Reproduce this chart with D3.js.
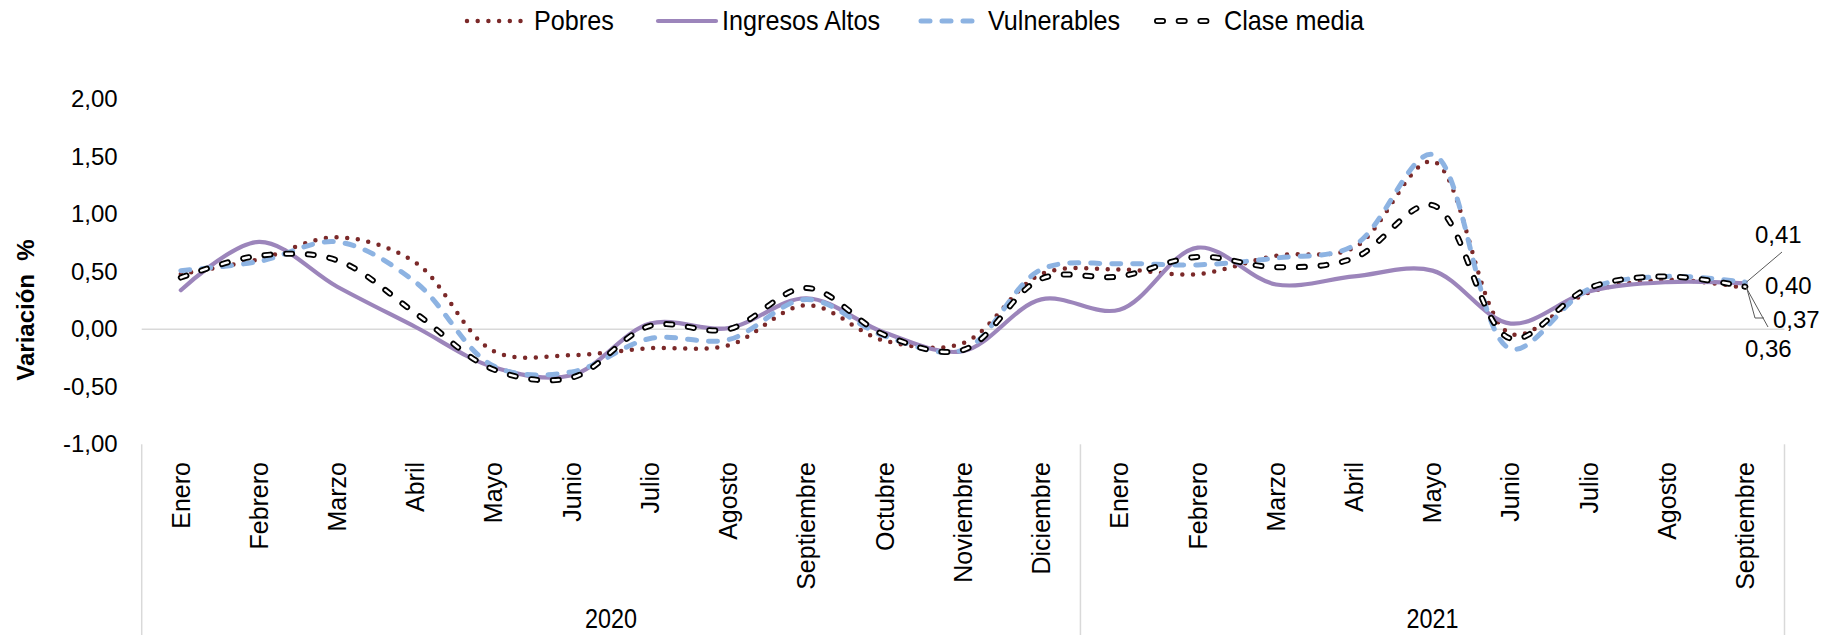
<!DOCTYPE html>
<html>
<head>
<meta charset="utf-8">
<script src="https://cdn.jsdelivr.net/npm/d3@7"></script>
<style>
  body { margin: 0; background: #fff; }
  text { font-family: Arial, "Liberation Sans", sans-serif; fill: #000; }
</style>
</head>
<body>
<svg id="chart" width="1824" height="635"></svg>
<script>
// Monthly variation (%) by socioeconomic group, Jan 2020 – Sep 2021
const years = ["2020", "2021"];
const months2020 = ["Enero", "Febrero", "Marzo", "Abril", "Mayo", "Junio", "Julio",
  "Agosto", "Septiembre", "Octubre", "Noviembre", "Diciembre"];
const months2021 = ["Enero", "Febrero", "Marzo", "Abril", "Mayo", "Junio", "Julio",
  "Agosto", "Septiembre"];
const yTicks = [2, 1.5, 1, 0.5, 0, -0.5, -1];

const pobres        = [0.48, 0.61, 0.80, 0.58, -0.19, -0.225, -0.165, -0.14, 0.21, -0.10, -0.12, 0.48,
                       0.52, 0.48, 0.64, 0.71, 1.46, -0.04, 0.32, 0.43, 0.36];
const ingresosAltos = [0.34, 0.76, 0.37, 0.02, -0.33, -0.40, 0.05, 0.01, 0.27, -0.03, -0.19, 0.26,
                       0.17, 0.71, 0.39, 0.46, 0.51, 0.05, 0.33, 0.41, 0.40];
const vulnerables   = [0.51, 0.59, 0.76, 0.41, -0.32, -0.37, -0.08, -0.09, 0.26, -0.06, -0.18, 0.52,
                       0.57, 0.56, 0.62, 0.73, 1.52, -0.17, 0.35, 0.46, 0.41];
const claseMedia    = [0.45, 0.64, 0.60, 0.14, -0.35, -0.42, 0.03, 0.00, 0.36, -0.05, -0.18, 0.44,
                       0.46, 0.63, 0.54, 0.62, 1.08, -0.08, 0.36, 0.46, 0.37];

const categories = [
  ...months2020.map(m => ({ month: m, year: years[0] })),
  ...months2021.map(m => ({ month: m, year: years[1] }))
];

const series = [
  { name: "Pobres", values: pobres, color: "#7b2929", width: 4.5, dash: "0 10.7", cap: "round" },
  { name: "Ingresos Altos", values: ingresosAltos, color: "#9c85bb", width: 4.2, dash: null, cap: "round" },
  { name: "Vulnerables", values: vulnerables, color: "#8db3e2", width: 5, dash: "9 12", cap: "round" },
  { name: "Clase media", values: claseMedia, color: "#000", width: 6, dash: "6 15.7", cap: "round", inner: "#fff", innerWidth: 2.4 }
];

const svg = d3.select("#chart");
const left = 141.7, right = 1784.5;

const x = d3.scaleBand().domain(d3.range(categories.length)).range([left, right]);
const y = d3.scaleLinear().domain([-1, 2]).range([444.3, 99.3]);

const locale = d3.formatLocale({ decimal: ",", thousands: ".", grouping: [3], currency: ["", "€"], minus: "-" });
const fmt = locale.format(".2f");

// Y axis (labels only)
const yAxis = svg.append("g")
  .attr("transform", `translate(${left},0)`)
  .call(d3.axisLeft(y).tickValues(yTicks).tickFormat(fmt).tickSize(0).tickPadding(24));
yAxis.select(".domain").remove();
yAxis.selectAll("text").attr("font-size", 24).attr("font-family", "Arial, 'Liberation Sans', sans-serif").attr("fill", "#000");

// Axis title
svg.append("text")
  .attr("transform", `translate(25,310) rotate(-90)`)
  .attr("text-anchor", "middle")
  .attr("dominant-baseline", "central")
  .attr("font-size", 24)
  .attr("font-weight", "bold")
  .style("white-space", "pre")
  .text("Variación  %");

// Zero line
svg.append("line")
  .attr("x1", left).attr("x2", right)
  .attr("y1", y(0)).attr("y2", y(0))
  .attr("stroke", "#d9d9d9").attr("stroke-width", 1.5);

// Month labels
const xAxis = svg.append("g")
  .attr("transform", `translate(0,${y(-1)})`)
  .call(d3.axisBottom(x).tickSize(0).tickFormat(i => categories[i].month));
xAxis.select(".domain").remove();
xAxis.selectAll("text")
  .attr("font-size", 25)
  .attr("font-family", "Arial, 'Liberation Sans', sans-serif")
  .attr("fill", "#000")
  .attr("transform", "rotate(-90)")
  .attr("text-anchor", "end")
  .attr("x", -(462 - y(-1)))
  .attr("y", 0)
  .attr("dy", "0.35em");

// Year group separators and labels
const groupEdges = [0, months2020.length, categories.length];
svg.selectAll("line.sep").data(groupEdges).join("line")
  .attr("class", "sep")
  .attr("x1", i => left + x.step() * i).attr("x2", i => left + x.step() * i)
  .attr("y1", y(-1)).attr("y2", 635)
  .attr("stroke", "#d9d9d9").attr("stroke-width", 1.5);

svg.selectAll("text.year").data(years).join("text")
  .attr("class", "year")
  .attr("transform", (d, k) => {
    const cx = left + x.step() * (groupEdges[k] + groupEdges[k + 1]) / 2;
    return `translate(${cx},628) scale(0.9,1.05)`;
  })
  .attr("text-anchor", "middle")
  .attr("font-size", 26)
  .text(d => d);

// Series lines
const line = d3.line()
  .x((d, i) => x(i) + x.bandwidth() / 2)
  .y(d => y(d))
  .curve(d3.curveCatmullRom.alpha(0.5));

function styleStroke(sel, s) {
  sel.attr("fill", "none")
    .attr("stroke", s.color)
    .attr("stroke-width", s.width)
    .attr("stroke-linecap", s.cap)
    .attr("stroke-linejoin", "round");
  if (s.dash) sel.attr("stroke-dasharray", s.dash);
}
function styleInner(sel, s) {
  sel.attr("fill", "none")
    .attr("stroke", s.inner)
    .attr("stroke-width", s.innerWidth)
    .attr("stroke-linecap", s.cap)
    .attr("stroke-linejoin", "round")
    .attr("stroke-dasharray", s.dash);
}

const plot = svg.append("g");
series.forEach(s => {
  plot.append("path").datum(s.values).attr("d", line).call(styleStroke, s);
  if (s.inner) plot.append("path").datum(s.values).attr("d", line).call(styleInner, s);
});

// Legend
const legendItems = [
  { x1: 467, x2: 529, tx: 534 },
  { x1: 658, x2: 716, tx: 722 },
  { x1: 921, x2: 983, tx: 988 },
  { x1: 1157, x2: 1218, tx: 1224 }
];
const legend = svg.append("g");
series.forEach((s, k) => {
  const p = legendItems[k];
  legend.append("line").attr("x1", p.x1).attr("x2", p.x2).attr("y1", 21).attr("y2", 21).call(styleStroke, s);
  if (s.inner) legend.append("line").attr("x1", p.x1).attr("x2", p.x2).attr("y1", 21).attr("y2", 21).call(styleInner, s);
  legend.append("text")
    .attr("transform", `translate(${p.tx},21) scale(0.9,1)`)
    .attr("dominant-baseline", "central")
    .attr("font-size", 28)
    .text(s.name);
});

// End-of-series value labels with leaders
const last = categories.length - 1;
const ex = x(last) + x.bandwidth() / 2;
const endLabels = [
  { s: 2, tx: 1755, ty: 234, leader: [[1782, 252]] },
  { s: 1, tx: 1765, ty: 285, leader: null },
  { s: 3, tx: 1773, ty: 319, leader: [[1755, 318], [1764, 318]] },
  { s: 0, tx: 1745, ty: 348, leader: [[1768, 327]] }
];
endLabels.forEach(l => {
  const v = series[l.s].values[last];
  if (l.leader) {
    svg.append("path")
      .attr("d", d3.line()([[ex + 1, y(v)], ...l.leader]))
      .attr("fill", "none").attr("stroke", "#595959").attr("stroke-width", 1);
  }
  svg.append("text")
    .attr("x", l.tx).attr("y", l.ty)
    .attr("dominant-baseline", "central")
    .attr("font-size", 24)
    .text(fmt(v));
});
</script>
</body>
</html>
